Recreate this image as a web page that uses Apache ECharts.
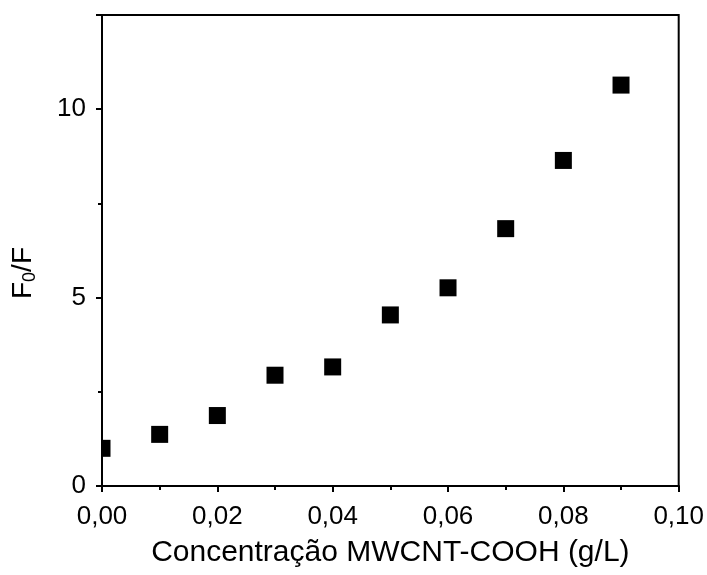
<!DOCTYPE html>
<html>
<head>
<meta charset="utf-8">
<script src="https://cdn.jsdelivr.net/npm/echarts@6/dist/echarts.min.js"></script>
<style>
  html, body { margin: 0; padding: 0; background: #fff; }
  #chart { width: 707px; height: 575px; }
</style>
</head>
<body>
<div id="chart"></div>
<script>
// Concentration of MWCNT-COOH (g/L) and the quenching ratio F0/F
const concentrations = [0.00, 0.01, 0.02, 0.03, 0.04, 0.05, 0.06, 0.07, 0.08, 0.09];
const quenchRatio = [1.00, 1.37, 1.87, 2.94, 3.16, 4.54, 5.26, 6.83, 8.64, 10.64];
const xTickValues = [0.00, 0.02, 0.04, 0.06, 0.08, 0.10];
const yTickValues = [0, 5, 10];

const FONT = 'Liberation Sans, Arial, sans-serif';
const points = concentrations.map((c, i) => [c, quenchRatio[i]]);
const commaLabel = v => v.toFixed(2).replace('.', ',');

const chart = echarts.init(document.getElementById('chart'), null, { renderer: 'canvas' });

// thin ticks for the frame's top and right sides
const frameAxis = {
  axisLine: { show: true, lineStyle: { color: '#000', width: 2 } },
  axisTick: { show: true, inside: true, length: 2, lineStyle: { color: '#000', width: 1 } },
  minorTick: { show: true, splitNumber: 2, length: 2, lineStyle: { color: '#000', width: 1 } },
  axisLabel: { show: false },
  splitLine: { show: false }
};

chart.setOption({
  backgroundColor: '#ffffff',
  animation: false,
  grid: {
    left: 102, right: 27, top: 15, bottom: 89,
    show: true, borderColor: '#000', borderWidth: 2, backgroundColor: 'transparent'
  },
  xAxis: [
    {
      type: 'value',
      min: 0, max: 0.1, interval: 0.02,
      name: 'Concentração MWCNT-COOH (g/L)',
      nameLocation: 'middle',
      nameGap: 52,
      nameTextStyle: { fontFamily: FONT, fontSize: 30, color: '#000' },
      axisLine: { show: true, lineStyle: { color: '#000', width: 2 } },
      axisTick: { show: true, inside: false, length: 6, lineStyle: { color: '#000', width: 2 } },
      minorTick: { show: true, splitNumber: 2, length: 4, lineStyle: { color: '#000', width: 2 } },
      axisLabel: {
        fontFamily: FONT, fontSize: 26, color: '#000', margin: 18,
        formatter: v => xTickValues.some(t => Math.abs(t - v) < 1e-9) ? commaLabel(v) : ''
      },
      splitLine: { show: false }
    },
    Object.assign({ type: 'value', position: 'top', min: 0, max: 0.1, interval: 0.02 }, frameAxis)
  ],
  yAxis: [
    {
      type: 'value',
      min: 0, max: 12.5, interval: 5,
      name: '{a|F}{b|0}{a|/F}{pad|}',
      nameLocation: 'middle',
      nameRotate: 90,
      nameGap: 63,
      nameTextStyle: {
        fontFamily: FONT, color: '#000',
        rich: {
          a: { fontFamily: FONT, fontSize: 28, color: '#000' },
          b: { fontFamily: FONT, fontSize: 18, color: '#000', padding: [14, 0, 0, 0] },
          pad: { width: 45 }
        }
      },
      axisLine: { show: true, lineStyle: { color: '#000', width: 2 } },
      axisTick: { show: true, inside: false, length: 6, lineStyle: { color: '#000', width: 2 } },
      minorTick: { show: true, splitNumber: 2, length: 4, lineStyle: { color: '#000', width: 2 } },
      axisLabel: {
        fontFamily: FONT, fontSize: 26, color: '#000', margin: 16,
        formatter: v => yTickValues.includes(v) ? String(v) : ''
      },
      splitLine: { show: false }
    },
    Object.assign({ type: 'value', position: 'right', min: 0, max: 12.5, interval: 5 }, frameAxis)
  ],
  series: [
    {
      // filled squares, clipped to the plotting area
      type: 'custom',
      xAxisIndex: 0,
      yAxisIndex: 0,
      data: points,
      z: 3,
      renderItem: function (params, api) {
        const p = api.coord([api.value(0), api.value(1)]);
        const s = 17;
        const cs = params.coordSys;
        const shape = echarts.graphic.clipRectByRect(
          { x: p[0] - s / 2, y: p[1] - s / 2, width: s, height: s },
          { x: cs.x, y: cs.y, width: cs.width, height: cs.height }
        );
        return shape ? { type: 'rect', shape: shape, style: { fill: '#000' } } : null;
      }
    },
    {
      // binds the top and right frame axes so their ticks are drawn
      type: 'scatter',
      xAxisIndex: 1,
      yAxisIndex: 1,
      data: [],
      silent: true
    }
  ]
});
</script>
</body>
</html>
